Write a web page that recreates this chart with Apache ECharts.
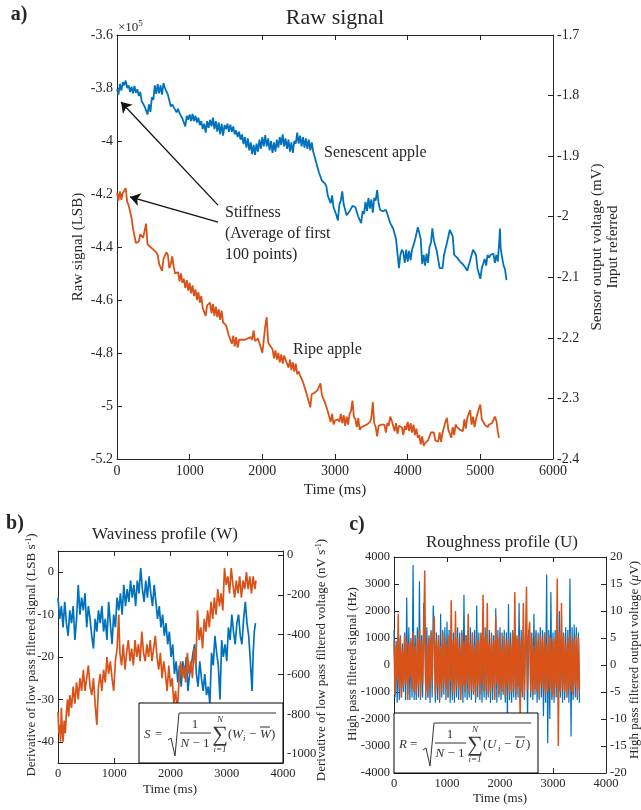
<!DOCTYPE html>
<html><head><meta charset="utf-8">
<script src="https://cdn.jsdelivr.net/npm/echarts@6/dist/echarts.min.js"></script>
<style>html,body{margin:0;padding:0;background:#fff}#c{width:641px;height:810px}</style>
</head><body><div id="c"></div>
<script>
// ---------- Panel a: raw signal (x1e5 LSB) ----------
const senescentRaw = [[0,-3.805],[20,-3.825],[40,-3.785],[60,-3.810],[80,-3.778],[100,-3.790],[120,-3.772],[140,-3.800],[160,-3.790],[180,-3.815],[200,-3.795],[220,-3.820],[240,-3.792],[260,-3.818],[280,-3.805],[300,-3.830],[320,-3.815],[340,-3.850],[360,-3.845],[380,-3.870],[400,-3.865],[420,-3.900],[440,-3.862],[460,-3.890],[480,-3.835],[500,-3.845],[520,-3.790],[540,-3.822],[560,-3.785],[580,-3.820],[600,-3.790],[620,-3.825],[640,-3.782],[660,-3.800],[680,-3.795],[700,-3.825],[720,-3.830],[740,-3.870],[760,-3.862],[780,-3.872],[800,-3.868],[820,-3.892],[840,-3.878],[860,-3.895],[880,-3.890],[900,-3.915],[920,-3.920],[940,-3.945],[960,-3.905],[980,-3.920],[1000,-3.900],[1020,-3.925],[1040,-3.898],[1060,-3.925],[1080,-3.905],[1100,-3.930],[1120,-3.912],[1140,-3.940],[1160,-3.925],[1180,-3.955],[1200,-3.935],[1220,-3.968],[1240,-3.925],[1260,-3.950],[1280,-3.920],[1300,-3.945],[1320,-3.912],[1340,-3.955],[1360,-3.925],[1380,-3.965],[1400,-3.930],[1420,-3.975],[1440,-3.935],[1460,-3.980],[1480,-3.940],[1500,-3.955],[1520,-3.935],[1540,-3.965],[1560,-3.938],[1580,-3.965],[1600,-3.945],[1620,-3.975],[1640,-3.960],[1660,-3.985],[1680,-3.965],[1700,-3.995],[1720,-3.975],[1740,-4.012],[1760,-3.985],[1780,-4.025],[1800,-3.990],[1820,-4.035],[1840,-4.005],[1860,-4.050],[1880,-4.015],[1900,-4.052],[1920,-4.010],[1940,-4.040],[1960,-3.995],[1980,-4.030],[2000,-3.985],[2020,-4.020],[2040,-3.978],[2060,-4.020],[2080,-3.990],[2100,-4.035],[2120,-4.000],[2140,-4.045],[2160,-4.005],[2180,-4.040],[2200,-3.995],[2220,-4.025],[2240,-3.985],[2260,-4.015],[2280,-3.975],[2300,-4.020],[2320,-3.990],[2340,-4.030],[2360,-3.995],[2380,-4.040],[2400,-4.005],[2420,-4.045],[2440,-4.000],[2460,-4.010],[2480,-3.968],[2500,-4.010],[2520,-3.980],[2540,-4.020],[2560,-3.985],[2580,-4.025],[2600,-3.990],[2620,-4.030],[2640,-3.995],[2660,-4.035],[2680,-4.005],[2700,-4.040],[2720,-4.040],[2740,-4.080],[2760,-4.075],[2780,-4.120],[2800,-4.115],[2820,-4.150],[2840,-4.150],[2860,-4.160],[2880,-4.170],[2900,-4.205],[2920,-4.200],[2940,-4.235],[2960,-4.205],[2980,-4.250],[3000,-4.245],[3020,-4.280],[3040,-4.300],[3060,-4.240],[3080,-4.225],[3100,-4.190],[3120,-4.240],[3140,-4.240],[3160,-4.280],[3180,-4.275],[3200,-4.265],[3220,-4.255],[3240,-4.245],[3260,-4.240],[3280,-4.250],[3300,-4.255],[3320,-4.285],[3340,-4.280],[3360,-4.310],[3380,-4.265],[3400,-4.275],[3420,-4.230],[3440,-4.265],[3460,-4.215],[3480,-4.255],[3500,-4.220],[3520,-4.270],[3540,-4.215],[3560,-4.225],[3580,-4.185],[3600,-4.235],[3620,-4.260],[3640,-4.265],[3660,-4.265],[3680,-4.260],[3700,-4.260],[3720,-4.275],[3740,-4.275],[3760,-4.310],[3780,-4.315],[3800,-4.330],[3820,-4.335],[3840,-4.370],[3860,-4.375],[3880,-4.480],[3900,-4.430],[3920,-4.410],[3940,-4.420],[3960,-4.460],[3980,-4.410],[4000,-4.455],[4020,-4.415],[4040,-4.450],[4060,-4.410],[4080,-4.405],[4100,-4.375],[4120,-4.370],[4140,-4.325],[4160,-4.330],[4180,-4.370],[4200,-4.465],[4220,-4.430],[4240,-4.470],[4260,-4.425],[4280,-4.460],[4300,-4.400],[4320,-4.385],[4340,-4.330],[4360,-4.375],[4380,-4.380],[4400,-4.415],[4420,-4.420],[4440,-4.480],[4460,-4.485],[4480,-4.480],[4500,-4.430],[4520,-4.425],[4540,-4.385],[4560,-4.380],[4580,-4.335],[4600,-4.340],[4620,-4.360],[4640,-4.430],[4660,-4.430],[4680,-4.440],[4700,-4.445],[4720,-4.455],[4740,-4.455],[4760,-4.465],[4780,-4.470],[4800,-4.480],[4820,-4.490],[4840,-4.495],[4860,-4.450],[4880,-4.450],[4900,-4.410],[4920,-4.420],[4940,-4.430],[4960,-4.480],[4980,-4.480],[5000,-4.520],[5020,-4.480],[5040,-4.480],[5060,-4.445],[5080,-4.470],[5100,-4.430],[5120,-4.440],[5140,-4.430],[5160,-4.430],[5180,-4.425],[5200,-4.460],[5220,-4.430],[5240,-4.455],[5260,-4.380],[5270,-4.330],[5280,-4.405],[5300,-4.440],[5320,-4.470],[5340,-4.485],[5360,-4.525]];

const ripeRaw = [[0,-4.195],[20,-4.225],[40,-4.190],[60,-4.222],[80,-4.195],[100,-4.200],[120,-4.178],[140,-4.230],[160,-4.242],[180,-4.245],[200,-4.290],[220,-4.330],[240,-4.335],[260,-4.385],[280,-4.385],[300,-4.380],[320,-4.352],[340,-4.355],[360,-4.365],[380,-4.370],[400,-4.312],[420,-4.390],[440,-4.395],[460,-4.400],[480,-4.405],[500,-4.410],[520,-4.415],[540,-4.420],[560,-4.430],[580,-4.465],[600,-4.460],[620,-4.490],[640,-4.445],[660,-4.450],[680,-4.420],[700,-4.430],[720,-4.480],[740,-4.465],[760,-4.435],[780,-4.475],[800,-4.500],[820,-4.500],[840,-4.495],[860,-4.530],[880,-4.500],[900,-4.535],[920,-4.520],[940,-4.555],[960,-4.525],[980,-4.565],[1000,-4.535],[1020,-4.575],[1040,-4.545],[1060,-4.585],[1080,-4.560],[1100,-4.600],[1120,-4.570],[1140,-4.610],[1160,-4.585],[1180,-4.630],[1200,-4.630],[1220,-4.660],[1240,-4.620],[1260,-4.625],[1280,-4.610],[1300,-4.650],[1320,-4.615],[1340,-4.660],[1360,-4.625],[1380,-4.665],[1400,-4.635],[1420,-4.675],[1440,-4.640],[1460,-4.685],[1480,-4.680],[1500,-4.695],[1520,-4.695],[1540,-4.735],[1560,-4.730],[1580,-4.765],[1600,-4.735],[1620,-4.775],[1640,-4.740],[1660,-4.780],[1680,-4.750],[1700,-4.755],[1720,-4.750],[1740,-4.755],[1760,-4.750],[1780,-4.750],[1800,-4.745],[1820,-4.745],[1840,-4.740],[1860,-4.750],[1880,-4.715],[1900,-4.755],[1920,-4.750],[1940,-4.745],[1960,-4.745],[1980,-4.780],[2000,-4.800],[2020,-4.750],[2040,-4.700],[2060,-4.665],[2080,-4.760],[2100,-4.770],[2120,-4.770],[2140,-4.785],[2160,-4.820],[2180,-4.790],[2200,-4.825],[2220,-4.800],[2240,-4.835],[2260,-4.805],[2280,-4.840],[2300,-4.810],[2320,-4.825],[2340,-4.820],[2360,-4.855],[2380,-4.825],[2400,-4.865],[2420,-4.835],[2440,-4.870],[2460,-4.840],[2480,-4.880],[2500,-4.870],[2520,-4.885],[2540,-4.880],[2560,-4.910],[2580,-4.905],[2600,-4.945],[2620,-4.950],[2640,-4.985],[2660,-5.005],[2680,-4.955],[2700,-4.950],[2720,-4.950],[2740,-4.945],[2760,-4.940],[2780,-4.940],[2800,-4.915],[2820,-4.960],[2840,-4.955],[2860,-4.985],[2880,-4.980],[2900,-5.020],[2920,-5.025],[2940,-5.060],[2960,-5.030],[2980,-5.070],[3000,-5.055],[3020,-5.055],[3040,-5.050],[3060,-5.060],[3080,-5.030],[3100,-5.065],[3120,-5.035],[3140,-5.075],[3160,-5.040],[3180,-5.070],[3200,-5.030],[3220,-5.020],[3240,-4.980],[3260,-5.040],[3280,-5.050],[3300,-5.080],[3320,-5.045],[3340,-5.090],[3360,-5.080],[3380,-5.085],[3400,-5.075],[3420,-5.080],[3440,-5.070],[3460,-5.070],[3480,-5.060],[3500,-5.045],[3520,-4.985],[3540,-5.065],[3560,-5.080],[3580,-5.115],[3600,-5.075],[3620,-5.080],[3640,-5.070],[3660,-5.075],[3680,-5.070],[3700,-5.100],[3720,-5.065],[3740,-5.075],[3760,-5.040],[3780,-5.055],[3800,-5.055],[3820,-5.095],[3840,-5.065],[3860,-5.105],[3880,-5.075],[3900,-5.080],[3920,-5.080],[3940,-5.110],[3960,-5.075],[3980,-5.090],[4000,-5.060],[4020,-5.095],[4040,-5.065],[4060,-5.100],[4080,-5.070],[4100,-5.110],[4120,-5.085],[4140,-5.120],[4160,-5.110],[4180,-5.145],[4200,-5.115],[4220,-5.150],[4240,-5.140],[4260,-5.140],[4280,-5.130],[4300,-5.130],[4320,-5.100],[4340,-5.105],[4360,-5.100],[4380,-5.130],[4400,-5.125],[4420,-5.135],[4440,-5.100],[4460,-5.135],[4480,-5.100],[4500,-5.100],[4520,-5.060],[4540,-5.045],[4560,-5.090],[4580,-5.090],[4600,-5.120],[4620,-5.080],[4640,-5.110],[4660,-5.070],[4680,-5.080],[4700,-5.075],[4720,-5.090],[4740,-5.085],[4760,-5.095],[4780,-5.050],[4800,-5.085],[4820,-5.045],[4840,-5.050],[4860,-5.015],[4880,-5.070],[4900,-5.040],[4920,-5.080],[4940,-5.050],[4960,-5.055],[4980,-5.010],[5000,-4.995],[5020,-5.050],[5040,-5.060],[5060,-5.070],[5080,-5.075],[5100,-5.080],[5120,-5.070],[5140,-5.075],[5160,-5.065],[5180,-5.070],[5200,-5.040],[5220,-5.055],[5240,-5.095],[5257,-5.120]];

// ---------- Panel b: waviness (LSB/s) ----------
const wavinessSenescent = [[0,-6],[30,-11],[60,-8],[90,-13],[120,-7],[150,-12],[180,-15],[210,-9],[240,-12],[270,-8],[300,-16],[330,-11],[360,-3],[390,-10],[420,-6],[450,-9],[480,-5],[510,-13],[540,-8],[570,-11],[600,-15],[630,-18],[660,-11],[690,-14],[720,-9],[750,-12],[780,-8],[810,-14],[840,-11],[870,-16],[900,-7],[930,-12],[960,-17],[990,-10],[1020,-13],[1050,-6],[1080,-9],[1110,-5],[1140,-10],[1170,-3],[1200,-8],[1230,-4],[1260,-7],[1290,-2],[1320,-6],[1350,-3],[1380,-8],[1410,-2],[1440,-5],[1470,1],[1500,-4],[1530,-7],[1560,-2],[1590,-6],[1620,-1],[1650,-5],[1680,-8],[1710,-3],[1740,-7],[1770,-11],[1800,-8],[1830,-13],[1860,-10],[1890,-15],[1920,-12],[1950,-17],[1980,-14],[2010,-20],[2040,-17],[2070,-24],[2100,-21],[2130,-26],[2160,-22],[2190,-27],[2220,-21],[2250,-25],[2280,-20],[2310,-28],[2340,-24],[2370,-22],[2400,-19],[2430,-17],[2460,-24],[2490,-27],[2520,-21],[2550,-25],[2580,-28],[2610,-24],[2640,-29],[2670,-27],[2700,-31],[2730,-19],[2760,-22],[2790,-15],[2820,-19],[2850,-22],[2880,-30],[2910,-16],[2940,-20],[2970,-17],[3000,-21],[3030,-13],[3060,-16],[3090,-10],[3120,-14],[3150,-17],[3180,-12],[3210,-10],[3240,-15],[3270,-17],[3300,-11],[3330,-7],[3360,-12],[3390,-15],[3420,-21],[3450,-28],[3470,-19],[3490,-14],[3510,-12]];

const wavinessRipe = [[0,-33],[15,-38],[30,-36],[45,-40],[60,-32],[75,-37],[90,-40],[110,-35],[130,-38],[150,-33],[170,-30],[190,-34],[210,-29],[240,-32],[270,-27],[300,-31],[330,-26],[360,-30],[390,-25],[420,-28],[450,-23],[480,-28],[510,-25],[540,-22],[570,-27],[600,-29],[630,-25],[660,-31],[690,-36],[720,-27],[750,-24],[780,-28],[810,-23],[840,-26],[870,-20],[900,-24],[930,-21],[960,-25],[990,-28],[1020,-21],[1050,-18],[1080,-10],[1100,-19],[1130,-22],[1160,-17],[1190,-23],[1220,-19],[1250,-16],[1280,-21],[1310,-18],[1340,-22],[1370,-16],[1400,-20],[1430,-17],[1460,-21],[1490,-14],[1520,-19],[1550,-21],[1580,-17],[1610,-20],[1640,-16],[1670,-21],[1700,-18],[1730,-15],[1760,-20],[1790,-23],[1820,-19],[1850,-25],[1880,-21],[1910,-24],[1940,-28],[1970,-22],[2000,-27],[2030,-25],[2060,-31],[2090,-28],[2120,-33],[2150,-26],[2180,-21],[2210,-25],[2240,-22],[2270,-26],[2300,-19],[2330,-24],[2360,-21],[2390,-25],[2420,-18],[2450,-22],[2480,-9],[2510,-16],[2540,-13],[2570,-18],[2600,-11],[2630,-14],[2660,-9],[2690,-13],[2720,-7],[2750,-11],[2780,-6],[2810,-10],[2840,-4],[2870,-8],[2900,-5],[2930,-9],[2960,1],[2990,-3],[3020,-1],[3050,-5],[3080,1],[3110,-3],[3140,-6],[3170,-2],[3200,-5],[3230,-1],[3260,-6],[3290,-2],[3320,-4],[3350,0],[3380,-4],[3410,-1],[3440,-5],[3470,-1],[3500,-4],[3520,-2]];

// ---------- Panel c: roughness (Hz) ----------
const roughTimes = [0,20,40,60,80,100,120,140,160,180,200,220,240,260,280,300,320,340,360,380,400,420,440,460,480,500,520,540,560,580,600,620,640,660,680,700,720,740,760,780,800,820,840,860,880,900,920,940,960,980,1000,1020,1040,1060,1080,1100,1120,1140,1160,1180,1200,1220,1240,1260,1280,1300,1320,1340,1360,1380,1400,1420,1440,1460,1480,1500,1520,1540,1560,1580,1600,1620,1640,1660,1680,1700,1720,1740,1760,1780,1800,1820,1840,1860,1880,1900,1920,1940,1960,1980,2000,2020,2040,2060,2080,2100,2120,2140,2160,2180,2200,2220,2240,2260,2280,2300,2320,2340,2360,2380,2400,2420,2440,2460,2480,2500,2520,2540,2560,2580,2600,2620,2640,2660,2680,2700,2720,2740,2760,2780,2800,2820,2840,2860,2880,2900,2920,2940,2960,2980,3000,3020,3040,3060,3080,3100,3120,3140,3160,3180,3200,3220,3240,3260,3280,3300,3320,3340,3360,3380,3400,3420,3440,3460,3480,3500];
const roughSenescent = [1300,-1200,900,-1400,1000,-1300,1100,-1200,800,-1000, 1200,-1300,2500,-1100,1400,-1300,900,-1200,3700,-1300, 1100,-1300,1400,-1200,3100,-1300,1100,-1200,2300,1000, -1300,1400,-1200,1100,-1400,1300,-1200,2200,1300,-1400, 1200,-1300,1100,-1400,1900,-1200,1300,-1100,1400,-1300, 1600,-1200,1300,-1400,1100,-1300,1200,-1400,1300,-1200, 1400,-1300,1200,-1100,1300,-1400,2600,-1200,1100,-1300, 1300,-1200,1400,-1300,1200,-1100,1300,-1400,2200,-1200, 1200,-1300,1100,-1400,1300,-1200,1400,-1300,1200,-1100, 1300,-1400,1200,-1300,1100,-1200,2100,-1400,1300,-1200, 1400,-1300,1200,-1100,1300,-1400,1200,-2100,2250,-1300, 1200,-1400,1300,-1200,1400,-1300,1100,-1200,2300,-1400, 1300,-1200,1400,-1300,1200,1100,-2000,1300,1200,-1200, 1200,-1300,1900,-1100,1300,-1400,1200,-1300,1400,-1200, 1300,-1900,1200,-1400,3350,-2900,1300,-2000,2700,-1300, 1200,-1400,1300,-1200,1400,-1300,2000,-1200,1300,-1400, 1200,-1300,1400,-1200,1300,-1400,3200,-2650,1400,-1300, 1500,-1200,1400,-1300,1200,-1400];
const roughRipe = [900,-1100,700,-600,1900,-900,1000,-1200,600,-800, 1100,-700,900,-1300,800,-500,1000,-900,1200,-1000, 700,-1100,1000,-800,1300,-1200,900,-700,1100,3500, -1000,800,-1200,1000,-900,1200,-600,1000,1800,-1100, 900,-800,1100,-1300,700,-1000,1200,-700,1000,-900, 800,-1200,1100,-600,2400,-1000,900,-1100,2000,-800, 1000,-900,700,-1300,1200,-800,900,-1000,1100,-700, 1900,-1100,800,-900,1200,-1000,700,-1200,1000,-800, 900,-1100,1200,-700,2600,-1000,1000,-900,2300,-1200, 800,-1000,1100,-800,900,-1300,1800,-700,1000,-1100, 1200,-900,700,-1000,1100,-1200,900,-800,1000,-1100, 800,-1000,1200,-900,2700,-1100,1000,-800,1100,-2000, 900,-1000,2300,-1200,800,2900,-900,1100,1600,-1000, 1000,-1100,700,-900,1200,-1000,900,-1200,1100,-800, 1000,-900,1200,-1100,800,-1000,1100,-900,1000,-1200, 900,-1100,1000,-800,3200,-3000,1200,-1000,2300,-900, 1100,-1000,800,-1200,1000,-900,1200,-1000,900,-1100, 1000,-800,1100,-1200,1000,-900];

// tick values
const wavLeftTicks = [-40,-30,-20,-10,0];
const wavRightTicks = [0,-200,-400,-600,-800,-1000];

const BLUE = '#0072BD', ORANGE = '#D95319', INK = '#262626';
const SERIF = '"Liberation Serif", "Times New Roman", serif';
const plain = v => String(Math.round(v * 1000) / 1000);

function baseAxis(fs, extra) {
  const ax = Object.assign({
    type: 'value',
    axisLine: { show: true, onZero: false, lineStyle: { color: INK, width: 1 } },
    axisTick: { show: true, inside: true, length: 5, lineStyle: { color: INK } },
    axisLabel: { color: INK, fontFamily: SERIF, fontSize: fs, margin: 4 },
    splitLine: { show: false }
  }, extra);
  ax.axisLabel = Object.assign({ formatter: plain }, ax.axisLabel);
  return ax;
}
function topAxis(gi, max, interval) {
  return baseAxis(12, { gridIndex: gi, position: 'top', min: 0, max: max, interval: interval, axisLabel: { show: false } });
}

function txt(x, y, text, size, opt) {
  return Object.assign({
    type: 'text', x: x, y: y, z: 100,
    style: Object.assign({ text: text, fill: INK, font: size + 'px ' + SERIF, align: 'center', verticalAlign: 'middle' }, (opt && opt.style) || {})
  }, (opt && opt.el) || {});
}
function vtxt(x, y, text, size, rich) {
  return { type: 'text', x: x, y: y, rotation: Math.PI / 2, z: 100,
    style: { text: text, fill: INK, font: size + 'px ' + SERIF, align: 'center', verticalAlign: 'middle', rich: rich || {} } };
}

function formula(bx, by, L, V) {
  const col = '#333';
  const it = 'italic 13px ' + SERIF, up = '13px ' + SERIF;
  const left = (x, y, t, f) => ({ type: 'text', x: x, y: y, z: 102, style: { text: t, fill: col, font: f, align: 'left', verticalAlign: 'middle' } });
  const mid = (x, y, t, f) => ({ type: 'text', x: x, y: y, z: 102, style: { text: t, fill: col, font: f, align: 'center', verticalAlign: 'middle' } });
  return [
    { type: 'rect', z: 101, shape: { x: bx, y: by, width: 144, height: 60 }, style: { fill: '#fff', stroke: '#000', lineWidth: 1 } },
    left(bx + 5, by + 32, L, it),
    left(bx + 16, by + 32, '=', up),
    { type: 'polyline', z: 102, shape: { points: [[bx + 29, by + 37], [bx + 32, by + 35], [bx + 36, by + 53], [bx + 40, by + 10], [bx + 137, by + 10]] }, style: { stroke: col, lineWidth: 1, fill: null } },
    mid(bx + 56, by + 22, '1', up),
    { type: 'line', z: 102, shape: { x1: bx + 41, y1: by + 30, x2: bx + 72, y2: by + 30 }, style: { stroke: col, lineWidth: 1 } },
    mid(bx + 56, by + 41, '{i|N} − 1', up),
    mid(bx + 81, by + 32, '∑', '22px ' + SERIF),
    mid(bx + 81, by + 17, 'N', 'italic 9px ' + SERIF),
    mid(bx + 81, by + 47, 'i=1', 'italic 9px ' + SERIF),
    left(bx + 89, by + 32, '(', up),
    left(bx + 93, by + 32, V, it),
    left(bx + 104, by + 36, 'i', 'italic 9px ' + SERIF),
    left(bx + 110, by + 32, '−', up),
    left(bx + 121, by + 32, V, it),
    { type: 'line', z: 102, shape: { x1: bx + 121, y1: by + 24, x2: bx + 131, y2: by + 24 }, style: { stroke: col, lineWidth: 1 } },
    left(bx + 132, by + 32, ')', up)
  ].map(e => { if (e.style && e.style.text && e.style.text.indexOf('{i|') >= 0) e.style.rich = { i: { font: it, fill: col } }; return e; });
}

const chart = echarts.init(document.getElementById('c'), null, { renderer: 'canvas' });

const option = {
  animation: false,
  backgroundColor: '#fff',
  textStyle: { fontFamily: SERIF },
  grid: [
    { left: 117, top: 35, width: 436, height: 424 },
    { left: 58, top: 551, width: 225, height: 212 },
    { left: 394, top: 557, width: 212, height: 216 }
  ],
  xAxis: [
    baseAxis(14, { gridIndex: 0, min: 0, max: 6000, interval: 1000, axisLabel: { color: INK, fontFamily: SERIF, fontSize: 14, margin: 5 } }),
    topAxis(0, 6000, 1000),
    baseAxis(12.5, { gridIndex: 1, min: 0, max: 4000, interval: 1000 }),
    topAxis(1, 4000, 1000),
    baseAxis(12.5, { gridIndex: 2, min: 0, max: 4000, interval: 1000 }),
    topAxis(2, 4000, 1000)
  ],
  yAxis: [
    baseAxis(14, { gridIndex: 0, min: -5.2, max: -3.6, interval: 0.2 }),
    baseAxis(14, { gridIndex: 0, position: 'right', min: -2.4, max: -1.7, interval: 0.1 }),
    baseAxis(12.5, { gridIndex: 1, min: -45, max: 5,
      axisTick: { show: true, inside: true, length: 5, lineStyle: { color: INK }, customValues: wavLeftTicks },
      axisLabel: { color: INK, fontFamily: SERIF, fontSize: 12.5, margin: 4, customValues: wavLeftTicks } }),
    baseAxis(12.5, { gridIndex: 1, position: 'right', min: -1045, max: 20,
      axisTick: { show: true, inside: true, length: 5, lineStyle: { color: INK }, customValues: wavRightTicks },
      axisLabel: { color: INK, fontFamily: SERIF, fontSize: 12.5, margin: 4, customValues: wavRightTicks } }),
    baseAxis(12.5, { gridIndex: 2, min: -4000, max: 4000, interval: 1000 }),
    baseAxis(12.5, { gridIndex: 2, position: 'right', min: -20, max: 20, interval: 5 })
  ],
  series: [
    { name: 'Senescent apple', type: 'line', xAxisIndex: 0, yAxisIndex: 0, data: senescentRaw, showSymbol: false, lineStyle: { color: BLUE, width: 1.8 }, itemStyle: { color: BLUE },
      markLine: { silent: true, symbol: ['none', 'arrow'], symbolSize: 10, label: { show: false }, lineStyle: { color: '#111', width: 1.3, type: 'solid' },
        emphasis: { disabled: true },
        data: [[{ coord: [1390, -4.242] }, { coord: [55, -3.853] }], [{ coord: [1390, -4.306] }, { coord: [179, -4.211] }]] } },
    { name: 'Ripe apple', type: 'line', xAxisIndex: 0, yAxisIndex: 0, data: ripeRaw, showSymbol: false, lineStyle: { color: ORANGE, width: 1.8 }, itemStyle: { color: ORANGE } },
    { name: 'Senescent W', type: 'line', xAxisIndex: 2, yAxisIndex: 2, data: wavinessSenescent, showSymbol: false, lineStyle: { color: BLUE, width: 1.7 }, itemStyle: { color: BLUE } },
    { name: 'Ripe W', type: 'line', xAxisIndex: 2, yAxisIndex: 2, data: wavinessRipe, showSymbol: false, lineStyle: { color: ORANGE, width: 1.7 }, itemStyle: { color: ORANGE } },
    { name: 'Senescent U', type: 'line', xAxisIndex: 4, yAxisIndex: 4, data: roughTimes.map((t, i) => [t, roughSenescent[i]]), showSymbol: false, lineStyle: { color: BLUE, width: 1.2 }, itemStyle: { color: BLUE } },
    { name: 'Ripe U', type: 'line', xAxisIndex: 4, yAxisIndex: 4, data: roughTimes.map((t, i) => [t, roughRipe[i]]), showSymbol: false, lineStyle: { color: ORANGE, width: 1.5 }, itemStyle: { color: ORANGE } }
  ],
  graphic: [].concat(
    [
      txt(19, 15, 'a)', 20, { style: { font: 'bold 20px ' + SERIF } }),
      txt(15, 524, 'b)', 20, { style: { font: 'bold 20px ' + SERIF } }),
      txt(357, 525, 'c)', 20, { style: { font: 'bold 20px ' + SERIF } }),
      txt(335, 18, 'Raw signal', 22),
      txt(165, 535, 'Waviness profile (W)', 17),
      txt(502, 543, 'Roughness profile (U)', 17),
      { type: 'text', x: 118, y: 28, z: 100, style: { text: '×10{s|5}', fill: INK, font: '13px ' + SERIF, align: 'left', verticalAlign: 'middle', rich: { s: { fontSize: 9, fontFamily: SERIF, fill: INK, padding: [0, 0, 8, 0] } } } },
      txt(335, 490, 'Time (ms)', 15),
      txt(170, 790, 'Time (ms)', 13),
      txt(500, 799, 'Time (ms)', 13),
      vtxt(78, 247, 'Raw signal (LSB)', 15),
      vtxt(597, 247, 'Sensor output voltage (mV)', 15),
      vtxt(613, 247, 'Input referred', 15),
      vtxt(32, 655, 'Derivative of low pass filtered signal (LSB s{s|-1})', 13, { s: { fontSize: 8, fontFamily: SERIF, fill: INK, padding: [0, 0, 7, 0] } }),
      vtxt(322, 660, 'Derivative of low pass filtered voltage (nV s{s|-1})', 13, { s: { fontSize: 8, fontFamily: SERIF, fill: INK, padding: [0, 0, 7, 0] } }),
      vtxt(353, 664, 'High pass filtered signal (Hz)', 13),
      vtxt(635, 660, 'High pass filtered output voltage ({i|μ}V)', 13, { i: { fontSize: 13, fontFamily: SERIF, fontStyle: 'italic', fill: INK } }),
      txt(324, 153, 'Senescent apple', 16, { style: { align: 'left' } }),
      txt(293, 350, 'Ripe apple', 16, { style: { align: 'left' } }),
      txt(225, 213, 'Stiffness', 16, { style: { align: 'left' } }),
      txt(225, 234, '(Average of first', 16, { style: { align: 'left' } }),
      txt(225, 255, '100 points)', 16, { style: { align: 'left' } })
    ],
    formula(139, 703, 'S', 'W'),
    formula(394, 713, 'R', 'U')
  )
};
chart.setOption(option);
</script>
</body></html>
